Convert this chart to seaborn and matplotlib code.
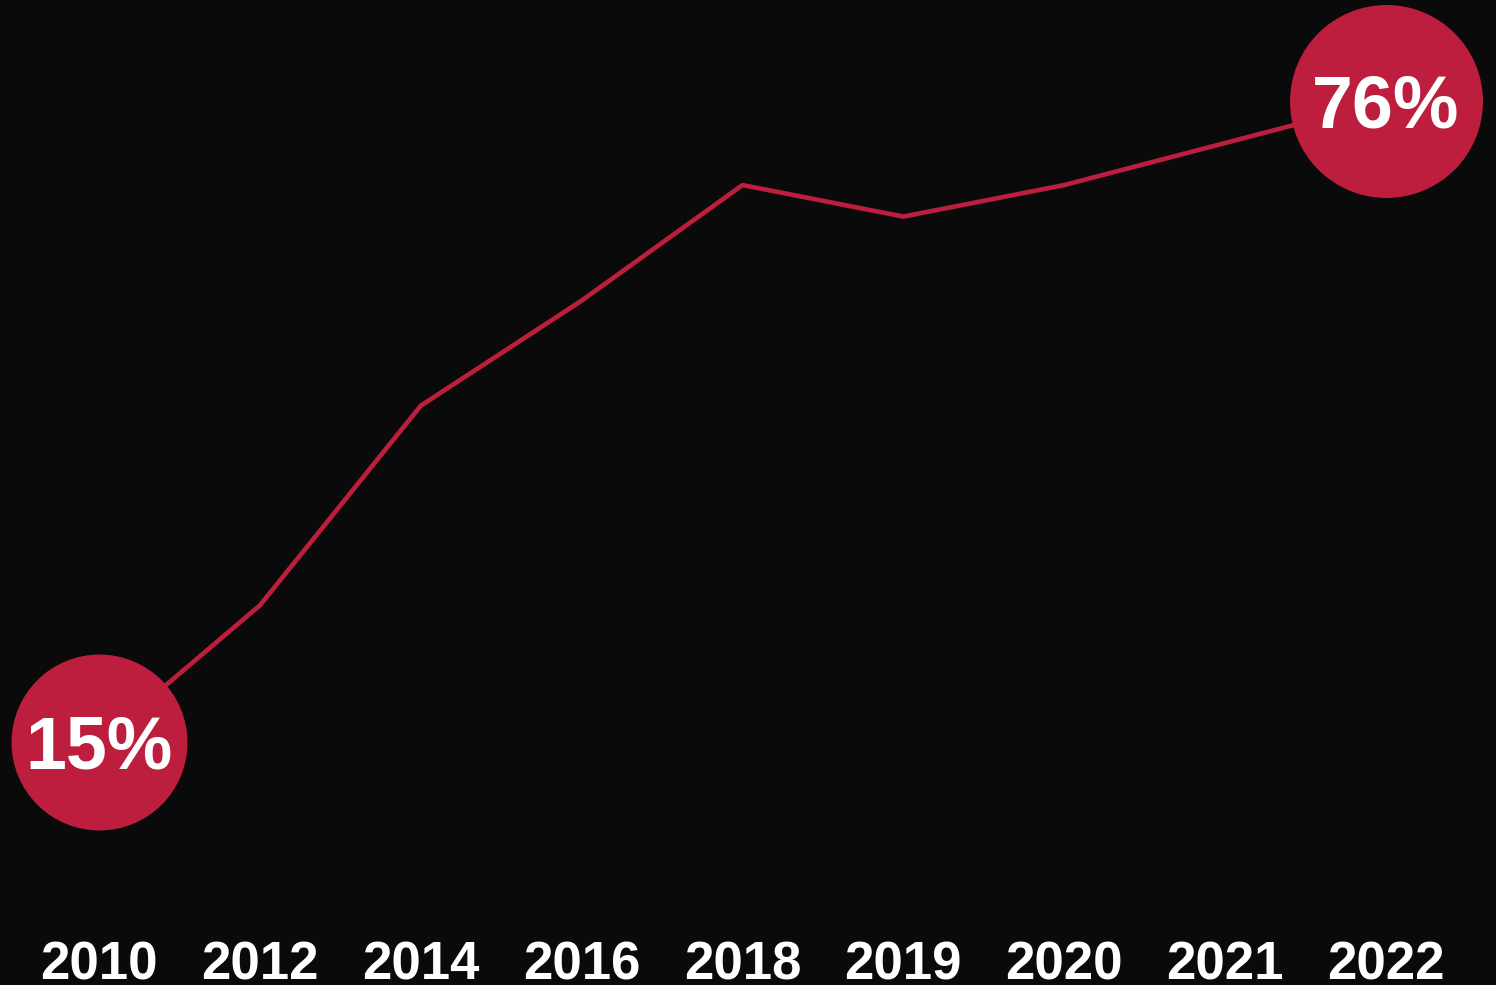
import matplotlib
matplotlib.use("Agg")
import matplotlib.pyplot as plt
import seaborn as sns
import pandas as pd

years = ["2010", "2012", "2014", "2016", "2018", "2019", "2020", "2021", "2022"]
share = [15, 28, 47, 57, 68, 65, 68, 72, 76]

BG = "#0a0a0a"
RED = "#be1e3d"

sns.set_theme(style="dark")
plt.rcParams["font.family"] = ["Liberation Sans", "DejaVu Sans"]

df = pd.DataFrame({"pos": range(len(years)), "year": years, "share": share})

fig = plt.figure(figsize=(14.96, 9.85), dpi=100, facecolor=BG)
ax = fig.add_axes([0, 0.1, 1, 0.9])
ax.set_facecolor(BG)

sns.lineplot(data=df, x="pos", y="share", color=RED, linewidth=3.3, ax=ax)

# highlight the first and last values with labelled discs
ends = df.iloc[[0, -1]].copy()
sizes = [16050, 19300]
for (_, row), s in zip(ends.iterrows(), sizes):
    ax.scatter(row["pos"], row["share"], s=s, color=RED, zorder=3,
               linewidths=0, clip_on=False)
    ax.annotate(f"{row['share']}%", (row["pos"], row["share"]),
                xytext=(0, -19), textcoords="offset points",
                ha="center", va="baseline", color="white",
                fontsize=53, fontweight="bold", zorder=4)

# axis geometry
px_per_unit = 160.875
ax.set_xlim(-99 / px_per_unit, 8 + 110 / px_per_unit)
ax.set_ylim(-8.125 + (98.5 / 10.508), 85.61)

ax.set_xticks(df["pos"])
ax.set_xticklabels(df["year"], fontsize=38, fontweight="bold", color="white")
ax.tick_params(axis="x", length=0, pad=39)
ax.set_yticks([])
ax.set_xlabel("")
ax.set_ylabel("")
ax.grid(False)
for sp in ax.spines.values():
    sp.set_visible(False)

fig.savefig("out.png", dpi=100, facecolor=BG)
